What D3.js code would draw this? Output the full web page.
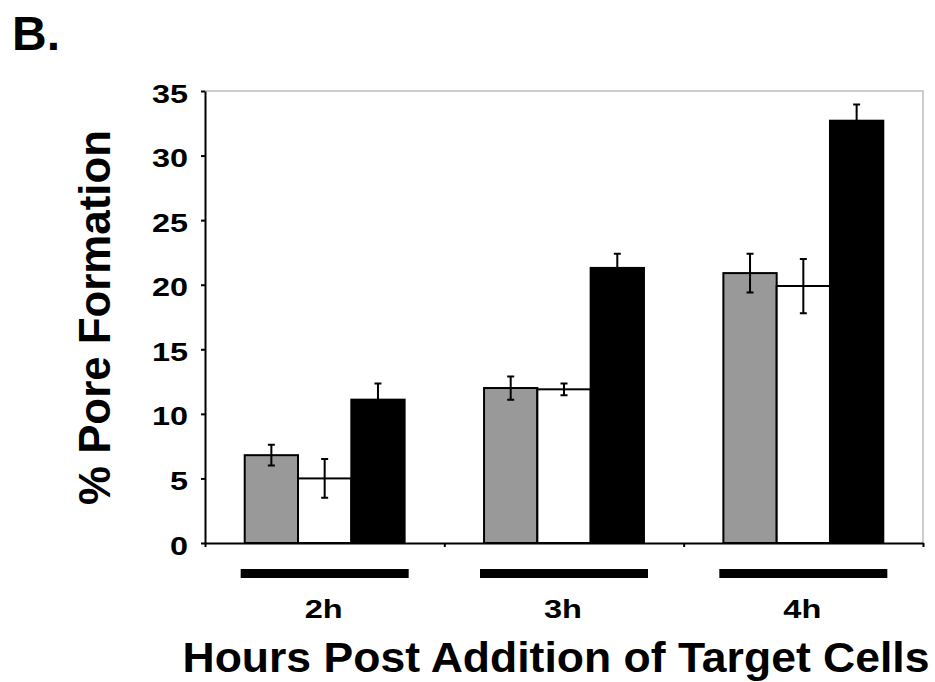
<!DOCTYPE html>
<html>
<head>
<meta charset="utf-8">
<script src="https://cdn.jsdelivr.net/npm/d3@7"></script>
<style>
  html, body { margin: 0; padding: 0; background: #fff; }
  svg { display: block; }
  text { font-family: "Liberation Sans", Arial, Helvetica, sans-serif; font-weight: bold; fill: #000; }
</style>
</head>
<body>
<svg id="chart" width="935" height="682"></svg>
<script>
// ---- data ----
const categories = ["2h", "3h", "4h"];
const seriesNames = ["gray", "white", "black"];
const grayValues  = [6.8, 12.0, 20.9];
const grayErrors  = [0.8, 0.9, 1.5];
const whiteValues = [5.0, 11.9, 19.9];
const whiteErrors = [1.5, 0.45, 2.1];
const blackValues = [11.1, 21.3, 32.7];
const blackErrors = [1.25, 1.1, 1.25];
const yTicks = [0, 5, 10, 15, 20, 25, 30, 35];
const yLabel = "% Pore Formation";
const xLabel = "Hours Post Addition of Target Cells";
const panelLabel = "B.";

const seriesValues = { gray: grayValues, white: whiteValues, black: blackValues };
const seriesErrors = { gray: grayErrors, white: whiteErrors, black: blackErrors };
const seriesFill = { gray: "#999999", white: "#ffffff", black: "#000000" };

// ---- layout ----
const svg = d3.select("#chart");
const pLeft = 205, pRight = 923, pTop = 91, pBottom = 543;

const y = d3.scaleLinear().domain([0, 35]).range([pBottom, pTop]);
const x0 = d3.scaleBand().domain(categories).range([pLeft, pRight]).paddingInner(0).paddingOuter(0);
const x1 = d3.scaleBand().domain(seriesNames).range([0, x0.bandwidth()]).paddingInner(0).paddingOuter(0.745);
const xb = d3.scaleLinear().domain([0, categories.length]).range([pLeft, pRight]);

// plot frame (top & right light gray)
svg.append("path")
  .attr("d", `M${pLeft},${pTop}H${pRight}V${pBottom}`)
  .attr("fill", "none").attr("stroke", "#bdbdbd").attr("stroke-width", 1.5);

// bars
const rows = [];
categories.forEach((c, i) => seriesNames.forEach(s => rows.push({ c, s, v: seriesValues[s][i], e: seriesErrors[s][i] })));

svg.append("g").selectAll("rect").data(rows).join("rect")
  .attr("x", d => x0(d.c) + x1(d.s))
  .attr("y", d => y(d.v))
  .attr("width", x1.bandwidth())
  .attr("height", d => y(0) - y(d.v))
  .attr("fill", d => seriesFill[d.s])
  .attr("stroke", "#000").attr("stroke-width", 2);

// error bars
const eb = svg.append("g").attr("stroke", "#000").attr("stroke-width", 2).attr("fill", "none");
rows.forEach(d => {
  const cx = x0(d.c) + x1(d.s) + x1.bandwidth() / 2;
  const y1 = y(d.v + d.e), y2 = y(d.v - d.e);
  eb.append("path").attr("d", `M${cx},${y1}V${y2}M${cx - 3.5},${y1}H${cx + 3.5}M${cx - 3.5},${y2}H${cx + 3.5}`);
});

// y axis
const yAxis = svg.append("g").attr("transform", `translate(${pLeft},0)`)
  .call(d3.axisLeft(y).tickValues(yTicks).tickSize(4).tickSizeOuter(0).tickPadding(13).tickFormat(d3.format("d")));
yAxis.select(".domain").attr("stroke-width", 2);
yAxis.selectAll(".tick line").attr("stroke-width", 2);
yAxis.selectAll(".tick text")
  .attr("dy", null).attr("y", 11)
  .style("font-size", "26px").style("font-family", "'Liberation Sans', Arial, sans-serif").style("font-weight", "bold")
  .attr("textLength", d => String(d).length * 18).attr("lengthAdjust", "spacingAndGlyphs");

// x axis (boundary ticks)
const xAxis = svg.append("g").attr("transform", `translate(0,${pBottom})`)
  .call(d3.axisBottom(xb).tickValues(d3.range(categories.length + 1)).tickSize(4).tickSizeOuter(0).tickFormat(""));
xAxis.select(".domain").attr("stroke-width", 2);
xAxis.selectAll(".tick line").attr("stroke-width", 2);

// category underline bars and labels
const cat = svg.append("g").selectAll("g").data(categories).join("g");
cat.append("rect")
  .attr("x", d => x0(d) + x0.bandwidth() / 2 - 84)
  .attr("y", 569).attr("width", 168).attr("height", 9).attr("fill", "#000");
cat.append("text")
  .attr("x", d => x0(d) + x0.bandwidth() / 2 - 1)
  .attr("y", 618).attr("text-anchor", "middle")
  .style("font-size", "25px")
  .attr("textLength", 38).attr("lengthAdjust", "spacingAndGlyphs")
  .text(d => d);

// axis titles
svg.append("text")
  .attr("x", 556).attr("y", 672).attr("text-anchor", "middle")
  .style("font-size", "43px")
  .attr("textLength", 747).attr("lengthAdjust", "spacingAndGlyphs")
  .text(xLabel);

svg.append("text")
  .attr("transform", "translate(110,317.5) rotate(-90)")
  .attr("text-anchor", "middle")
  .style("font-size", "45px")
  .attr("textLength", 375).attr("lengthAdjust", "spacingAndGlyphs")
  .text(yLabel);

svg.append("text")
  .attr("x", 12).attr("y", 50)
  .style("font-size", "48px")
  .text(panelLabel);
</script>
</body>
</html>
